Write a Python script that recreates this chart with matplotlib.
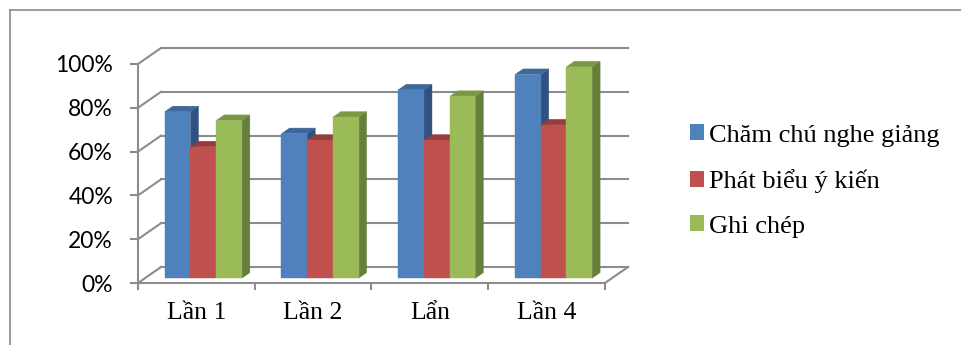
import matplotlib.pyplot as plt
from matplotlib.patches import Polygon, Patch
from matplotlib.lines import Line2D

# chart data
categories = ['Lần 1', 'Lần 2', 'Lẩn', 'Lần 4']
series_names = ['Chăm chú nghe giảng', 'Phát biểu ý kiến', 'Ghi chép']
cham_chu = [0.76, 0.66, 0.86, 0.93]
phat_bieu = [0.60, 0.63, 0.63, 0.70]
ghi_chep = [0.72, 0.735, 0.83, 0.965]
y_ticks = [0, 0.2, 0.4, 0.6, 0.8, 1.0]
y_labels = ['0%', '20%', '40%', '60%', '80%', '100%']

front_cols = ['#4F81BD', '#C0504D', '#9BBB59']
top_cols = ['#3D6899', '#953D3B', '#7A9746']
side_cols = ['#2F5282', '#7F3331', '#667F3A']

# oblique depth offset (category units, value units)
DX, DY = 0.197, 0.073
D0, D1 = 0.30, 0.65      # bar depth span
GAP = 0.17               # gap at each side of a group
BW = (1 - 2 * GAP) / 3   # bar width
GRID = '#8C8C8C'


def proj(x, v, d):
    return (x + DX * d, v + DY * d)


def bar3d(ax, x0, h, i):
    x1 = x0 + BW
    front = [proj(x0, 0, D0), proj(x1, 0, D0), proj(x1, h, D0), proj(x0, h, D0)]
    top = [proj(x0, h, D0), proj(x1, h, D0), proj(x1, h, D1), proj(x0, h, D1)]
    side = [proj(x1, 0, D0), proj(x1, 0, D1), proj(x1, h, D1), proj(x1, h, D0)]
    for pts, c in ((side, side_cols[i]), (top, top_cols[i]), (front, front_cols[i])):
        ax.add_patch(Polygon(pts, closed=True, facecolor=c, edgecolor=c,
                             linewidth=0.3, clip_on=False, zorder=3))


fig = plt.figure(figsize=(9.62, 3.45), dpi=100)
fig.patch.set_facecolor('white')

# outer chart border
fig.add_artist(Line2D([10 / 962, 1], [1 - 10 / 345, 1 - 10 / 345], color='#8C8C8C', lw=1.2))
fig.add_artist(Line2D([10 / 962, 10 / 962], [0, 1 - 10 / 345], color='#8C8C8C', lw=1.2))

ax = fig.add_axes([138 / 962, 62 / 345, 467 / 962, 219 / 345])
n = len(categories)
ax.set_xlim(0, n)
ax.set_ylim(0, 1)

# walls: back gridlines and left-wall diagonals
for v in y_ticks:
    xs, ys = zip(proj(0, v, 1), proj(n, v, 1))
    ax.plot(xs, ys, color=GRID, lw=1.5, clip_on=False, zorder=1)
    xs, ys = zip(proj(0, v, 0), proj(0, v, 1))
    ax.plot(xs, ys, color=GRID, lw=1.5, clip_on=False, zorder=1)
xs, ys = zip(proj(n, 0, 0), proj(n, 0, 1))
ax.plot(xs, ys, color=GRID, lw=1.5, clip_on=False, zorder=1)

for k in range(n):
    for i, vals in enumerate([cham_chu, phat_bieu, ghi_chep]):
        bar3d(ax, k + GAP + i * BW, vals[k], i)

for s in ['top', 'right']:
    ax.spines[s].set_visible(False)
for s in ['left', 'bottom']:
    ax.spines[s].set_color(GRID)
    ax.spines[s].set_linewidth(1.5)
    ax.spines[s].set_zorder(2)

ax.set_yticks(y_ticks)
ax.set_yticklabels(y_labels, fontname='Lato', fontsize=16.5)
ax.tick_params(axis='y', length=6, width=1.5, color=GRID, pad=12)

ax.set_xticks(range(n + 1))
ax.set_xticklabels([])
ax.set_xticks([k + 0.5 for k in range(n)], minor=True)
ax.set_xticklabels(categories, minor=True, fontname='Liberation Serif', fontsize=18.5)
ax.tick_params(axis='x', which='major', length=5, width=1.5, color=GRID)
ax.tick_params(axis='x', which='minor', length=0, pad=14)

handles = [Patch(facecolor=c, edgecolor='none') for c in front_cols]
ax.legend(handles, series_names, loc='center left', bbox_to_anchor=(666 / 962, 1 - 181 / 345),
          bbox_transform=fig.transFigure, frameon=False,
          prop={'family': 'Liberation Serif', 'size': 19},
          handlelength=0.55, handleheight=0.55, handletextpad=0.18, labelspacing=0.85)

fig.savefig('out.png', dpi=100)
